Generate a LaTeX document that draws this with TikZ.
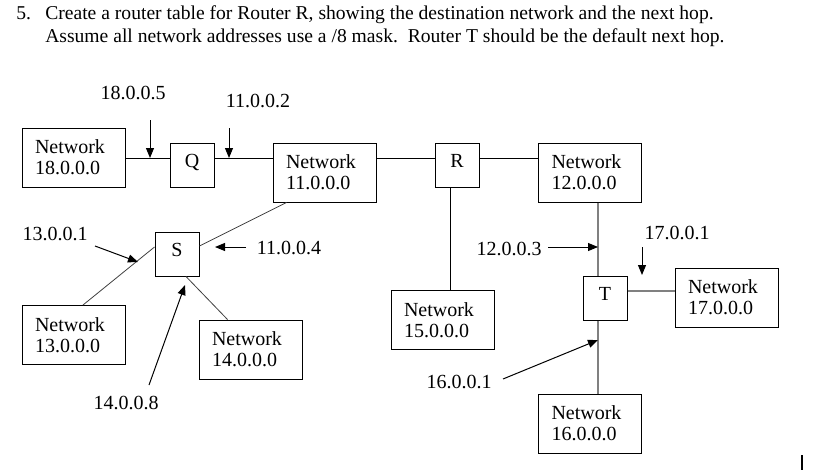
\documentclass[tikz,border=0pt]{standalone}
\usepackage{fontspec}
\setmainfont{Liberation Serif}
\usetikzlibrary{arrows.meta, calc}

\begin{document}
\begin{tikzpicture}[
      x=0.75pt, y=-0.75pt,
      every node/.style={font=\fontsize{15}{15.75}\selectfont},
      netbox/.style={draw, line width=0.75pt, minimum height=44.25pt, text width=57.75pt,
        inner xsep=9.75pt, inner ysep=0pt, align=left},
      router/.style={draw, line width=0.75pt, minimum size=33pt, inner sep=0pt,
        text height=10pt, text depth=6pt},
      addr/.style={inner sep=0pt},
      qtext/.style={anchor=base west, inner sep=0pt, font=\fontsize{14.7}{17}\selectfont},
      link/.style={line width=0.75pt},
      tlink/.style={draw=black!50, line width=1.5pt},
      slink/.style={draw=black!75, line width=0.6pt},
      pointer/.style={-{Triangle[length=7.5pt,width=6pt]}, line width=0.75pt}
    ]
      \useasboundingbox (0,0) rectangle (827,471);
      % question text
      \node[qtext] (num) at (16,19) {5.};
      \node[qtext] (qline1) at (45,19)
        {Create a router table for Router R, showing the destination network and the next hop.};
      \node[qtext] (qline2) at (45,42)
        {Assume all network addresses use a /8 mask.\ \ Router T should be the default next hop.};

      % networks
      \node[netbox] (n18) at (73.5,157.5) {Network\\18.0.0.0};
      \node[netbox] (n11) at (324.5,172.5) {Network\\11.0.0.0};
      \node[netbox] (n12) at (590,172.5) {Network\\12.0.0.0};
      \node[netbox] (n13) at (73.5,335) {Network\\13.0.0.0};
      \node[netbox] (n14) at (250.5,349.5) {Network\\14.0.0.0};
      \node[netbox] (n15) at (442.5,320) {Network\\15.0.0.0};
      \node[netbox] (n17) at (726.5,297.5) {Network\\17.0.0.0};
      \node[netbox] (n16) at (590,423.5) {Network\\16.0.0.0};

      % routers
      \node[router] (Q) at (192,165) {Q};
      \node[router] (R) at (457,165) {R};
      \node[router] (S) at (177,254) {S};
      \node[router] (T) at (605,298) {T};

      % bus lines
      \coordinate (bus) at (0,158);
      \coordinate (rbus) at (450,0);
      \coordinate (tbus) at (598,0);
      \coordinate (tright) at (0,291);
      \draw[link] (n18.east |- bus) -- (Q.west |- bus);
      \draw[link] (Q.east |- bus) -- (n11.west |- bus);
      \draw[link] (n11.east |- bus) -- (R.west |- bus);
      \draw[link] (R.east |- bus) -- (n12.west |- bus);
      \draw[link] (R.south -| rbus) -- (n15.north -| rbus);
      \draw[tlink] (n12.south -| tbus) -- (T.north -| tbus);
      \draw[tlink] (T.south -| tbus) -- (n16.north -| tbus);
      \draw[tlink] (T.east |- tright) -- (n17.west |- tright);
      \draw[slink] ($(S.east)+(0,-8)$) -- ($(n11.south west)+(14,0)$);
      \draw[slink] ($(S.west)+(0,-7)$) -- ($(n13.north)+(9.5,0)$);
      \draw[slink] ($(S.south)+(9,0)$) -- ($(n14.north west)+(29,0)$);

      % interface addresses
      \node[addr] (a18) at (133,93) {18.0.0.5};
      \node[addr] (a11q) at (258,101) {11.0.0.2};
      \node[addr] (a13) at (55,234) {13.0.0.1};
      \node[addr] (a11s) at (289,248) {11.0.0.4};
      \node[addr] (a14) at (126,403) {14.0.0.8};
      \node[addr] (a12) at (509,249) {12.0.0.3};
      \node[addr] (a17) at (677,233) {17.0.0.1};
      \node[addr] (a16) at (459,382) {16.0.0.1};

      \coordinate (p18s) at (150,120);  \coordinate (p18e) at (150,158);
      \coordinate (p11qs) at (229,128); \coordinate (p11qe) at (229,158);
      \coordinate (p13s) at (95,246);   \coordinate (p13e) at (138,262);
      \coordinate (p11ss) at (246,247); \coordinate (p11se) at (215,247);
      \coordinate (p14s) at (149,385);  \coordinate (p14e) at (185,285);
      \coordinate (p12s) at (548,247);  \coordinate (p12e) at (598,247);
      \coordinate (p17s) at (642,247);  \coordinate (p17e) at (642,275);
      \coordinate (p16s) at (503,379);  \coordinate (p16e) at (598,340);
      \draw[pointer] (p18s) -- (p18e);
      \draw[pointer] (p11qs) -- (p11qe);
      \draw[pointer] (p13s) -- (p13e);
      \draw[pointer] (p11ss) -- (p11se);
      \draw[pointer] (p14s) -- (p14e);
      \draw[pointer] (p12s) -- (p12e);
      \draw[pointer] (p17s) -- (p17e);
      \draw[pointer] (p16s) -- (p16e);

      % cursor mark
      \coordinate (cur) at (802,455);
      \draw[line width=1.5pt] (cur) -- ++(0,15);
    \end{tikzpicture}
\end{document}
